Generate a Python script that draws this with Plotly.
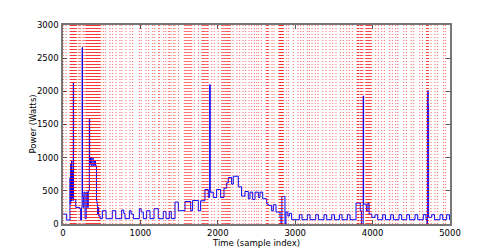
import plotly.graph_objects as go

# Power step series breakpoints (sample index, watts)
power_x = [0, 48, 90, 95, 100, 105, 110, 115, 120, 128, 133, 136, 165, 215, 228, 240, 247, 252, 262, 270,
           285, 300, 318, 327, 340, 345, 355, 365, 375, 390, 405, 420, 432, 440, 447, 455, 462, 480,
           508, 556, 637, 681, 758, 785, 801, 857, 880, 909, 986, 1010, 1038, 1081, 1124, 1176, 1231,
           1296, 1331, 1373, 1399, 1447, 1490, 1576, 1649, 1675, 1748, 1778, 1834, 1877, 1895, 1902,
           1942, 1985, 2037, 2080, 2115, 2136, 2179, 2200, 2265, 2308, 2351, 2394, 2416, 2451, 2481,
           2524, 2545, 2580, 2632, 2653, 2696, 2718, 2752, 2804, 2816, 2828, 2868, 2880, 2905, 2924,
           2954, 3053, 3088, 3157, 3192, 3265, 3300, 3372, 3407, 3472, 3507, 3570, 3605, 3674, 3709,
           3786, 3840, 3855, 3878, 3884, 3890, 3920, 3940, 3955, 3990, 4031, 4066, 4131, 4166, 4234,
           4269, 4341, 4376, 4441, 4476, 4548, 4583, 4655, 4690, 4703, 4708, 4713, 4718, 4724, 4764,
           4799, 4871, 4906, 4957, 4992, 5000]
power_y = [150, 60, 700, 300, 900, 350, 950, 400, 800, 350, 2130, 370, 250, 230, 60, 250, 2660, 420, 250, 480,
           80, 480, 250, 500, 1580, 900, 1000, 870, 1000, 880, 950, 880, 350, 300, 150, 250, 120, 80,
           200, 80, 200, 80, 210, 160, 80, 200, 150, 80, 230, 180, 80, 200, 80, 230, 80,
           190, 80, 190, 80, 330, 200, 340, 200, 355, 200, 350, 520, 400, 2100, 480,
           400, 520, 400, 540, 620, 700, 600, 720, 560, 420, 490, 380, 480, 370, 480,
           400, 480, 380, 300, 280, 200, 290, 180, 100, 0, 415, 0, 180, 120, 160,
           65, 140, 65, 140, 65, 140, 65, 140, 65, 140, 65, 140, 65, 140, 65,
           316, 200, 0, 1930, 300, 300, 200, 320, 150, 100, 140, 65, 140, 65, 140,
           65, 140, 65, 140, 65, 140, 65, 140, 65, 0, 1900, 2010, 1800, 100, 140,
           65, 140, 65, 140, 65, 65]

# Event sample indices (red dotted markers)
events = [4, 39, 90, 97, 103, 110, 116, 122, 129, 136, 142, 148, 155, 162, 168, 177, 203, 215, 229, 258,
          270, 285, 297, 304, 310, 317, 323, 330, 336, 343, 349, 356, 362, 369, 375, 382, 388, 395, 401,
          408, 414, 421, 427, 434, 440, 447, 453, 460, 466, 473, 479, 487, 521, 547, 607, 642, 685, 736,
          762, 814, 866, 900, 986, 1012, 1072, 1107, 1159, 1185, 1236, 1249, 1301, 1327, 1361, 1378, 1395,
          1430, 1447, 1491, 1568, 1580, 1590, 1603, 1615, 1628, 1640, 1652, 1663, 1697, 1749, 1792, 1805,
          1815, 1825, 1835, 1846, 1857, 1867, 1877, 1921, 1955, 2007, 2050, 2062, 2075, 2088, 2100, 2112,
          2125, 2135, 2145, 2155, 2162, 2196, 2248, 2283, 2326, 2361, 2403, 2438, 2472, 2503, 2528, 2562,
          2623, 2632, 2640, 2649, 2657, 2700, 2726, 2787, 2794, 2800, 2806, 2812, 2818, 2825, 2830, 2835,
          2841, 2847, 2890, 2916, 2976, 3036, 3071, 3105, 3157, 3183, 3218, 3260, 3295, 3356, 3398, 3450,
          3485, 3527, 3588, 3622, 3666, 3700, 3738, 3798, 3805, 3812, 3818, 3824, 3841, 3849, 3858, 3867,
          3876, 3911, 3918, 3925, 3932, 3940, 3947, 3955, 3962, 3970, 3979, 3988, 4040, 4074, 4118, 4152,
          4221, 4255, 4299, 4325, 4402, 4436, 4497, 4532, 4609, 4644, 4695, 4702, 4708, 4715, 4721, 4755,
          4806, 4841, 4918, 4944]

x_ticks = [0, 1000, 2000, 3000, 4000, 5000]
y_ticks = [0, 500, 1000, 1500, 2000, 2500, 3000]

fig = go.Figure()
fig.add_trace(go.Scatter(x=power_x, y=power_y, mode="lines", line_shape="hv",
                         line=dict(color="#0000ff", width=1), showlegend=False, hoverinfo="skip"))

for e in events:
    fig.add_shape(type="line", xref="x", yref="y", x0=e, x1=e, y0=0, y1=3000,
                  line=dict(color="rgba(255,0,0,0.6)", width=1, dash="1px,2px"), layer="above")

font = dict(family="DejaVu Sans, sans-serif", size=8.5, color="black")
axis_common = dict(showgrid=False, zeroline=False, showline=True, linecolor="#777777", linewidth=1.5,
                   mirror="ticks", ticks="inside", ticklen=4, tickcolor="#555555", tickfont=font)

fig.update_layout(
    width=500, height=250,
    margin=dict(l=63, r=50, t=25, b=26),
    paper_bgcolor="white", plot_bgcolor="white",
    font=font, showlegend=False,
    xaxis=dict(range=[0, 5000], tickvals=x_ticks, ticktext=[str(v) for v in x_ticks],
               title=dict(text="Time (sample index)", font=font, standoff=2), automargin=False,
               ticklabelstandoff=0, **axis_common),
    yaxis=dict(range=[0, 3000], tickvals=y_ticks, ticktext=[str(v) for v in y_ticks],
               automargin=False, ticklabelstandoff=1, **axis_common),
    annotations=[dict(text="Power (Watts)", xref="paper", yref="paper", x=-0.08, y=0.5,
                      xanchor="center", yanchor="middle", textangle=-90, showarrow=False, font=font)],
)

fig.write_html("out.html", config={"displayModeBar": False},
               post_script="document.body.style.margin='0';document.body.style.padding='0';")
